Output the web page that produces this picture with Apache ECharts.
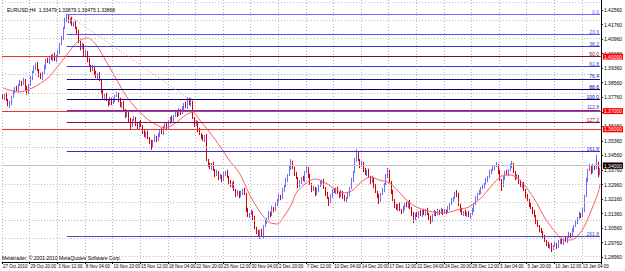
<!DOCTYPE html>
<html><head><meta charset="utf-8">
<script src="https://cdn.jsdelivr.net/npm/echarts@6/dist/echarts.min.js"></script>
<style>html,body{margin:0;padding:0;background:#fff}#c{width:625px;height:271px}</style>
</head><body><div id="c"></div>
<script>
// ---------- DATA ----------
const symbolName = "EURUSD,H4";
const copyrightText = "Metatrader, \u00a9 2001-2010 MetaQuotes Software Corp.";
const firstAxisLabel = "27 Oct 2010";
const tradingDays = ["27 Oct","28 Oct","29 Oct","1 Nov","2 Nov","3 Nov","4 Nov","5 Nov","8 Nov","9 Nov","10 Nov","11 Nov","12 Nov","15 Nov","16 Nov","17 Nov","18 Nov","19 Nov","22 Nov","23 Nov","24 Nov","25 Nov","26 Nov","29 Nov","30 Nov","1 Dec","2 Dec","3 Dec","6 Dec","7 Dec","8 Dec","9 Dec","10 Dec","13 Dec","14 Dec","15 Dec","16 Dec","17 Dec","20 Dec","21 Dec","22 Dec","23 Dec","24 Dec","27 Dec","28 Dec","29 Dec","30 Dec","31 Dec","3 Jan","4 Jan","5 Jan","6 Jan","7 Jan","10 Jan","11 Jan","12 Jan","13 Jan","14 Jan"];
const barHours = ["00:00","04:00","08:00","12:00","16:00","20:00"];

const opens = [1.3780,1.3772,1.3789,1.3761,1.3739,1.3745,1.3778,1.3805,1.3827,1.3816,
1.3844,1.3860,1.3849,1.3871,1.3827,1.3805,1.3844,1.3882,1.3915,1.3937,
1.3959,1.3926,1.3899,1.3882,1.3910,1.3943,1.3981,1.3970,1.3998,1.3987,
1.4009,1.3981,1.4003,1.4025,1.4069,1.4102,1.4157,1.4201,1.4218,1.4190,
1.4207,1.4174,1.4185,1.4157,1.4135,1.4080,1.4047,1.4064,1.4009,1.4025,
1.3981,1.3948,1.3926,1.3943,1.3910,1.3888,1.3904,1.3871,1.3805,1.3772,
1.3789,1.3761,1.3739,1.3767,1.3745,1.3761,1.3783,1.3794,1.3761,1.3728,
1.3745,1.3706,1.3673,1.3695,1.3651,1.3624,1.3651,1.3662,1.3629,1.3607,
1.3640,1.3618,1.3585,1.3563,1.3580,1.3552,1.3530,1.3514,1.3536,1.3558,
1.3541,1.3569,1.3596,1.3580,1.3613,1.3629,1.3607,1.3640,1.3662,1.3646,
1.3673,1.3695,1.3679,1.3706,1.3690,1.3717,1.3739,1.3723,1.3761,1.3739,
1.3745,1.3662,1.3624,1.3640,1.3596,1.3574,1.3558,1.3541,1.3563,1.3431,
1.3404,1.3387,1.3409,1.3376,1.3349,1.3365,1.3332,1.3343,1.3321,1.3354,
1.3365,1.3338,1.3310,1.3288,1.3305,1.3266,1.3239,1.3255,1.3233,1.3250,
1.3266,1.3244,1.3156,1.3123,1.3134,1.3145,1.3112,1.3057,1.3035,1.3019,
1.3041,1.3013,1.3068,1.3090,1.3107,1.3140,1.3129,1.3167,1.3156,1.3189,
1.3211,1.3233,1.3222,1.3266,1.3288,1.3321,1.3349,1.3387,1.3415,1.3387,
1.3354,1.3332,1.3288,1.3310,1.3332,1.3321,1.3365,1.3387,1.3343,1.3299,
1.3266,1.3277,1.3244,1.3266,1.3288,1.3305,1.3316,1.3277,1.3244,1.3222,
1.3200,1.3233,1.3266,1.3255,1.3272,1.3250,1.3233,1.3255,1.3228,1.3211,
1.3222,1.3244,1.3277,1.3321,1.3365,1.3431,1.3464,1.3431,1.3398,1.3415,
1.3376,1.3354,1.3371,1.3338,1.3310,1.3332,1.3288,1.3255,1.3233,1.3211,
1.3244,1.3266,1.3299,1.3343,1.3365,1.3310,1.3255,1.3211,1.3178,1.3162,
1.3184,1.3156,1.3145,1.3167,1.3189,1.3178,1.3200,1.3167,1.3134,1.3112,
1.3134,1.3123,1.3145,1.3129,1.3151,1.3134,1.3156,1.3134,1.3112,1.3101,
1.3129,1.3145,1.3134,1.3151,1.3140,1.3156,1.3140,1.3151,1.3145,1.3167,
1.3189,1.3211,1.3222,1.3244,1.3239,1.3184,1.3156,1.3134,1.3145,1.3129,
1.3140,1.3123,1.3134,1.3156,1.3189,1.3222,1.3244,1.3255,1.3277,1.3288,
1.3299,1.3321,1.3338,1.3365,1.3376,1.3387,1.3398,1.3404,1.3365,1.3321,
1.3288,1.3332,1.3365,1.3354,1.3376,1.3398,1.3404,1.3365,1.3332,1.3343,
1.3310,1.3288,1.3299,1.3266,1.3233,1.3211,1.3184,1.3167,1.3145,1.3123,
1.3090,1.3068,1.3046,1.3035,1.3008,1.2986,1.2969,1.2953,1.2964,1.2947,
1.2958,1.2969,1.2953,1.2980,1.2991,1.2975,1.2997,1.2986,1.3008,1.3024,
1.3013,1.3046,1.3068,1.3090,1.3112,1.3134,1.3123,1.3156,1.3233,1.3321,
1.3376,1.3398,1.3365,1.3398,1.3387,1.3415,1.33479];

const closes = [1.3772,1.3789,1.3761,1.3739,1.3745,1.3778,1.3805,1.3827,1.3816,1.3844,
1.3860,1.3849,1.3871,1.3827,1.3805,1.3844,1.3882,1.3915,1.3937,1.3959,
1.3926,1.3899,1.3882,1.3910,1.3943,1.3981,1.3970,1.3998,1.3987,1.4009,
1.3981,1.4003,1.4025,1.4069,1.4102,1.4157,1.4201,1.4218,1.4190,1.4207,
1.4174,1.4185,1.4157,1.4135,1.4080,1.4047,1.4064,1.4009,1.4025,1.3981,
1.3948,1.3926,1.3943,1.3910,1.3888,1.3904,1.3871,1.3805,1.3772,1.3789,
1.3761,1.3739,1.3767,1.3745,1.3761,1.3783,1.3794,1.3761,1.3728,1.3745,
1.3706,1.3673,1.3695,1.3651,1.3624,1.3651,1.3662,1.3629,1.3607,1.3640,
1.3618,1.3585,1.3563,1.3580,1.3552,1.3530,1.3514,1.3536,1.3558,1.3541,
1.3569,1.3596,1.3580,1.3613,1.3629,1.3607,1.3640,1.3662,1.3646,1.3673,
1.3695,1.3679,1.3706,1.3690,1.3717,1.3739,1.3723,1.3761,1.3739,1.3745,
1.3662,1.3624,1.3640,1.3596,1.3574,1.3558,1.3541,1.3563,1.3431,1.3404,
1.3387,1.3409,1.3376,1.3349,1.3365,1.3332,1.3343,1.3321,1.3354,1.3365,
1.3338,1.3310,1.3288,1.3305,1.3266,1.3239,1.3255,1.3233,1.3250,1.3266,
1.3244,1.3156,1.3123,1.3134,1.3145,1.3112,1.3057,1.3035,1.3019,1.3041,
1.3013,1.3068,1.3090,1.3107,1.3140,1.3129,1.3167,1.3156,1.3189,1.3211,
1.3233,1.3222,1.3266,1.3288,1.3321,1.3349,1.3387,1.3415,1.3387,1.3354,
1.3332,1.3288,1.3310,1.3332,1.3321,1.3365,1.3387,1.3343,1.3299,1.3266,
1.3277,1.3244,1.3266,1.3288,1.3305,1.3316,1.3277,1.3244,1.3222,1.3200,
1.3233,1.3266,1.3255,1.3272,1.3250,1.3233,1.3255,1.3228,1.3211,1.3222,
1.3244,1.3277,1.3321,1.3365,1.3431,1.3464,1.3431,1.3398,1.3415,1.3376,
1.3354,1.3371,1.3338,1.3310,1.3332,1.3288,1.3255,1.3233,1.3211,1.3244,
1.3266,1.3299,1.3343,1.3365,1.3310,1.3255,1.3211,1.3178,1.3162,1.3184,
1.3156,1.3145,1.3167,1.3189,1.3178,1.3200,1.3167,1.3134,1.3112,1.3134,
1.3123,1.3145,1.3129,1.3151,1.3134,1.3156,1.3134,1.3112,1.3101,1.3129,
1.3145,1.3134,1.3151,1.3140,1.3156,1.3140,1.3151,1.3145,1.3167,1.3189,
1.3211,1.3222,1.3244,1.3239,1.3184,1.3156,1.3134,1.3145,1.3129,1.3140,
1.3123,1.3134,1.3156,1.3189,1.3222,1.3244,1.3255,1.3277,1.3288,1.3299,
1.3321,1.3338,1.3365,1.3376,1.3387,1.3398,1.3404,1.3365,1.3321,1.3288,
1.3332,1.3365,1.3354,1.3376,1.3398,1.3404,1.3365,1.3332,1.3343,1.3310,
1.3288,1.3299,1.3266,1.3233,1.3211,1.3184,1.3167,1.3145,1.3123,1.3090,
1.3068,1.3046,1.3035,1.3008,1.2986,1.2969,1.2953,1.2964,1.2947,1.2958,
1.2969,1.2953,1.2980,1.2991,1.2975,1.2997,1.2986,1.3008,1.3024,1.3013,
1.3046,1.3068,1.3090,1.3112,1.3134,1.3123,1.3156,1.3233,1.3321,1.3376,
1.3398,1.3365,1.3398,1.3387,1.3415,1.33479,1.33868];

const highs = [1.3792,1.3795,1.3801,1.3767,1.3757,1.3784,1.3817,1.3833,1.3839,1.3850,
1.3872,1.3866,1.3883,1.3877,1.3839,1.3850,1.3894,1.3921,1.3949,1.3965,
1.3971,1.3932,1.3911,1.3916,1.3955,1.3987,1.3993,1.4004,1.4010,1.4015,
1.4021,1.4009,1.4037,1.4075,1.4114,1.4163,1.4213,1.4234,1.4230,1.4213,
1.4219,1.4191,1.4197,1.4163,1.4147,1.4086,1.4076,1.4070,1.4037,1.4031,
1.3993,1.3954,1.3955,1.3949,1.3922,1.3910,1.3916,1.3877,1.3817,1.3795,
1.3801,1.3767,1.3779,1.3773,1.3773,1.3789,1.3806,1.3800,1.3773,1.3751,
1.3757,1.3712,1.3707,1.3701,1.3663,1.3657,1.3674,1.3668,1.3641,1.3646,
1.3652,1.3624,1.3597,1.3586,1.3592,1.3558,1.3542,1.3542,1.3570,1.3564,
1.3581,1.3602,1.3608,1.3619,1.3641,1.3635,1.3652,1.3668,1.3674,1.3679,
1.3707,1.3701,1.3718,1.3712,1.3729,1.3745,1.3751,1.3778,1.3773,1.3772,
1.3757,1.3668,1.3652,1.3646,1.3608,1.3580,1.3570,1.3569,1.3575,1.3437,
1.3416,1.3415,1.3421,1.3382,1.3377,1.3371,1.3355,1.3349,1.3366,1.3371,
1.3377,1.3344,1.3322,1.3311,1.3317,1.3272,1.3267,1.3261,1.3262,1.3272,
1.3278,1.3250,1.3168,1.3140,1.3157,1.3151,1.3124,1.3063,1.3047,1.3047,
1.3053,1.3074,1.3102,1.3113,1.3152,1.3146,1.3179,1.3173,1.3201,1.3217,
1.3245,1.3239,1.3278,1.3294,1.3333,1.3355,1.3399,1.3436,1.3427,1.3393,
1.3366,1.3338,1.3322,1.3338,1.3344,1.3371,1.3404,1.3393,1.3355,1.3305,
1.3289,1.3283,1.3278,1.3294,1.3317,1.3322,1.3328,1.3283,1.3256,1.3228,
1.3245,1.3272,1.3278,1.3278,1.3284,1.3256,1.3267,1.3261,1.3240,1.3228,
1.3256,1.3283,1.3333,1.3371,1.3443,1.3491,1.3476,1.3437,1.3427,1.3421,
1.3388,1.3377,1.3383,1.3344,1.3344,1.3338,1.3300,1.3261,1.3245,1.3250,
1.3278,1.3305,1.3355,1.3387,1.3377,1.3316,1.3267,1.3217,1.3190,1.3190,
1.3196,1.3162,1.3179,1.3195,1.3201,1.3206,1.3212,1.3173,1.3146,1.3140,
1.3146,1.3151,1.3157,1.3157,1.3163,1.3162,1.3168,1.3140,1.3124,1.3135,
1.3157,1.3151,1.3163,1.3157,1.3168,1.3162,1.3163,1.3157,1.3179,1.3195,
1.3223,1.3228,1.3256,1.3266,1.3251,1.3190,1.3168,1.3151,1.3157,1.3146,
1.3152,1.3140,1.3168,1.3195,1.3234,1.3250,1.3267,1.3283,1.3300,1.3305,
1.3333,1.3344,1.3377,1.3382,1.3399,1.3404,1.3420,1.3410,1.3377,1.3327,
1.3344,1.3371,1.3377,1.3382,1.3410,1.3426,1.3416,1.3371,1.3355,1.3349,
1.3322,1.3305,1.3311,1.3272,1.3245,1.3217,1.3196,1.3173,1.3157,1.3129,
1.3102,1.3074,1.3058,1.3041,1.3020,1.2992,1.2981,1.2970,1.2976,1.2964,
1.2981,1.2975,1.2992,1.2997,1.3003,1.3003,1.3009,1.3014,1.3036,1.3030,
1.3058,1.3074,1.3102,1.3118,1.3146,1.3140,1.3168,1.3239,1.3333,1.3382,
1.3410,1.3404,1.3410,1.3404,1.3459,1.3421,1.33879];

const lows = [1.3766,1.3760,1.3755,1.3727,1.3717,1.3733,1.3772,1.3793,1.3810,1.3804,
1.3838,1.3837,1.3843,1.3815,1.3789,1.3793,1.3838,1.3870,1.3909,1.3925,
1.3920,1.3887,1.3876,1.3870,1.3904,1.3931,1.3964,1.3958,1.3981,1.3975,
1.3975,1.3969,1.3997,1.4013,1.4063,1.4090,1.4151,1.4189,1.4184,1.4178,
1.4168,1.4162,1.4151,1.4123,1.4074,1.4035,1.4041,1.3997,1.4003,1.3969,
1.3942,1.3914,1.3920,1.3898,1.3882,1.3876,1.3865,1.3793,1.3766,1.3760,
1.3755,1.3727,1.3733,1.3733,1.3739,1.3749,1.3777,1.3749,1.3722,1.3716,
1.3700,1.3661,1.3667,1.3639,1.3596,1.3612,1.3645,1.3617,1.3601,1.3595,
1.3612,1.3573,1.3557,1.3551,1.3546,1.3518,1.3486,1.3502,1.3530,1.3529,
1.3535,1.3557,1.3574,1.3568,1.3607,1.3595,1.3601,1.3628,1.3640,1.3634,
1.3667,1.3667,1.3673,1.3678,1.3684,1.3705,1.3717,1.3711,1.3733,1.3727,
1.3656,1.3612,1.3618,1.3584,1.3568,1.3546,1.3535,1.3529,1.3425,1.3392,
1.3381,1.3375,1.3370,1.3337,1.3343,1.3320,1.3326,1.3309,1.3315,1.3342,
1.3332,1.3298,1.3282,1.3276,1.3260,1.3227,1.3233,1.3221,1.3227,1.3238,
1.3238,1.3144,1.3117,1.3111,1.3128,1.3100,1.3051,1.3023,1.3013,1.2997,
1.3007,1.3001,1.3062,1.3078,1.3101,1.3117,1.3123,1.3144,1.3150,1.3177,
1.3205,1.3210,1.3216,1.3254,1.3282,1.3309,1.3343,1.3375,1.3381,1.3342,
1.3326,1.3276,1.3282,1.3298,1.3315,1.3309,1.3359,1.3331,1.3293,1.3254,
1.3260,1.3232,1.3238,1.3254,1.3282,1.3293,1.3271,1.3232,1.3216,1.3178,
1.3194,1.3221,1.3249,1.3243,1.3244,1.3221,1.3227,1.3216,1.3205,1.3199,
1.3216,1.3232,1.3271,1.3309,1.3359,1.3419,1.3425,1.3386,1.3392,1.3364,
1.3348,1.3342,1.3332,1.3298,1.3304,1.3276,1.3249,1.3221,1.3189,1.3199,
1.3238,1.3254,1.3293,1.3331,1.3304,1.3243,1.3205,1.3166,1.3156,1.3150,
1.3150,1.3133,1.3139,1.3155,1.3172,1.3166,1.3161,1.3122,1.3085,1.3100,
1.3117,1.3111,1.3123,1.3117,1.3128,1.3122,1.3128,1.3100,1.3079,1.3089,
1.3123,1.3122,1.3128,1.3128,1.3134,1.3128,1.3134,1.3133,1.3139,1.3155,
1.3183,1.3199,1.3216,1.3227,1.3178,1.3144,1.3128,1.3122,1.3123,1.3117,
1.3117,1.3107,1.3128,1.3144,1.3183,1.3210,1.3238,1.3243,1.3271,1.3276,
1.3293,1.3309,1.3332,1.3353,1.3370,1.3375,1.3392,1.3353,1.3315,1.3260,
1.3282,1.3320,1.3348,1.3342,1.3370,1.3386,1.3359,1.3320,1.3326,1.3298,
1.3282,1.3276,1.3260,1.3221,1.3205,1.3172,1.3161,1.3133,1.3117,1.3078,
1.3062,1.3034,1.3029,1.2996,1.2980,1.2957,1.2947,1.2941,1.2925,1.2935,
1.2952,1.2941,1.2947,1.2968,1.2969,1.2963,1.2980,1.2974,1.3002,1.3001,
1.3007,1.3034,1.3062,1.3078,1.3106,1.3111,1.3117,1.3144,1.3227,1.3309,
1.3370,1.3353,1.3359,1.3375,1.3381,1.3336,1.33475];

// moving average
const maIndex = [0,9,17,26,31,37,43,49,54,60,66,71,77,83,89,94,100,106,110,114,120,126,131,137,143,149,154,159,163,167,170,175,181,187,193,198,203,207,213,218,224,230,235,241,249,256,263,270,277,283,289,294,298,303,309,314,320,325,329,333,337,341,345,346];
const maValues = [1.3827,1.3805,1.3827,1.3882,1.3937,1.4009,1.4080,1.4102,1.4064,1.3970,1.3871,1.3789,1.3717,1.3662,1.3624,1.3607,1.3634,1.3679,1.3695,1.3651,1.3580,1.3503,1.3431,1.3360,1.3239,1.3145,1.3090,1.3079,1.3123,1.3184,1.3250,1.3299,1.3327,1.3305,1.3266,1.3250,1.3266,1.3305,1.3338,1.3321,1.3305,1.3250,1.3200,1.3167,1.3145,1.3140,1.3156,1.3173,1.3222,1.3288,1.3343,1.3349,1.3332,1.3283,1.3200,1.3112,1.3035,1.2991,1.2991,1.3013,1.3068,1.3156,1.3255,1.3299];

// price axis tick labels
const yTicks = [1.2896,1.2976,1.3056,1.3136,1.3216,1.3296,1.3376,1.3456,1.3536,1.3616,1.3696,1.3776,1.3856,1.3936,1.4016,1.4096,1.4176,1.4256];
const yMin = 1.2870, yMax = 1.4311;

// Fibonacci retracement
const fibStartIndex = 37, fibEndIndex = 108;
const fibHigh = 1.4234, fibLow = 1.37665;
const fibLevels = ["0.0","23.6","38.2","50.0","61.8","76.4","88.6","100.0","112.8","127.2","161.8","261.8"];
const fibPrices = [1.4234,1.41237,1.40554,1.40003,1.39451,1.38768,1.38198,1.37665,1.37071,1.36393,1.34776,1.30101];

// horizontal price lines
const redLines = [1.40003,1.37225,1.36393];
const alertLine = 1.34255;
const bidPrice = 1.33868;

// ---------- STYLE ----------
const FONT = 'Liberation Sans';
const FS = 5;
const FSX = 4.5;
const fibColors = ["#6a6aff","#5252ee","#3a3ad8","#7a0a40","#3a3ad8","#10109a","#000088","#000088","#3a3ad8","#8a0a3a","#3030d0","#4a4ad0"];
const upColor = '#6c6cff', downColor = '#dd0000';

// ---------- BUILD ----------
const categories = [];
tradingDays.forEach((d, di) => barHours.forEach((h, hi) => {
  if (di === 0 && hi === 0) return; // chart starts at 27 Oct 04:00
  categories.push(d + ' ' + h);
}));
const candleData = categories.map((c, i) => [opens[i], closes[i], lows[i], highs[i]]);
const last = categories.length - 1;
const headerText = symbolName + '  ' + [opens[last], highs[last], lows[last], closes[last]].map(v => v.toFixed(5)).join(' ');

const fibLines = fibLevels.map((lv, k) => [
  { coord: [categories[fibStartIndex], fibPrices[k]],
    lineStyle: { color: fibColors[k], width: 1, type: 'solid' },
    label: { show: true, formatter: lv, position: 'insideEndTop', color: fibColors[k], fontSize: FS, fontFamily: FONT, distance: [1, 0] } },
  { coord: [categories[last], fibPrices[k]] }
]);
const fibBase = [
  { coord: [categories[fibStartIndex], fibHigh], lineStyle: { color: '#ff7070', width: 1, type: [1, 2] }, label: { show: false } },
  { coord: [categories[fibEndIndex], fibLow] }
];
const boxLabel = (bg) => ({ show: true, position: 'end', formatter: p => p.value.toFixed(5), backgroundColor: bg, color: '#fff', fontSize: FS, fontFamily: FONT, padding: [1, 1, 0, 1], distance: 2 });
const priceLines = redLines.map(v => ({ yAxis: v, lineStyle: { color: '#ee3030', width: 1, type: 'solid' }, label: boxLabel('#ff0000') }));
priceLines.push({ yAxis: alertLine, lineStyle: { color: '#f08080', width: 1, type: 'solid' }, label: boxLabel('#ff0000') });
priceLines.push({ yAxis: bidPrice, lineStyle: { color: '#c0c0c8', width: 1, type: 'solid' }, label: boxLabel('#000000') });

const chart = echarts.init(document.getElementById('c'), null, { renderer: 'svg', width: 625, height: 271 });
chart.setOption({
  animation: false,
  backgroundColor: '#ffffff',
  title: { text: headerText, left: 2, top: 2, textStyle: { fontSize: FS, fontWeight: 'normal', color: '#000', fontFamily: FONT } },
  graphic: [{ type: 'text', left: 2, top: 255, z: 100, style: { text: copyrightText, fontSize: FS, fill: '#000', fontFamily: FONT } }],
  grid: { left: 0, right: 18, top: 0, bottom: 9 },
  xAxis: {
    type: 'category', data: categories, boundaryGap: true,
    axisLine: { show: true, lineStyle: { color: '#000', width: 1 } },
    axisTick: { show: true, interval: 15, length: 2, lineStyle: { color: '#000' } },
    axisLabel: { interval: 15, align: 'left', fontSize: FSX, margin: 2, color: '#000', fontFamily: FONT,
      formatter: (v, i) => i === 0 ? firstAxisLabel : v },
    splitLine: { show: true, interval: 15, lineStyle: { color: '#b8b8b8', type: [1, 2], width: 1 } }
  },
  yAxis: {
    type: 'value', position: 'right', min: yMin, max: yMax,
    axisLine: { show: true, lineStyle: { color: '#000', width: 1 } },
    axisTick: { show: true, customValues: yTicks, length: 2, lineStyle: { color: '#000' } },
    axisLabel: { customValues: yTicks, formatter: v => v.toFixed(5), fontSize: FS, margin: 3, color: '#000', fontFamily: FONT },
    splitLine: { show: false }
  },
  series: [
    { type: 'line', data: [], silent: true,
      markLine: { silent: true, symbol: ['none', 'none'], animation: false, label: { show: false },
        lineStyle: { color: '#b8b8b8', type: [1, 2], width: 1 },
        data: yTicks.map(v => ({ yAxis: v })) } },
    { type: 'candlestick', data: candleData, barWidth: 1,
      itemStyle: { color: upColor, color0: downColor, borderColor: upColor, borderColor0: downColor, borderWidth: 1 },
      markLine: { silent: true, symbol: ['none', 'none'], animation: false, data: [...priceLines, ...fibLines, fibBase] } },
    { type: 'line', data: maIndex.map((ix, k) => [ix, maValues[k]]), showSymbol: false, smooth: 0.3, silent: true,
      lineStyle: { color: '#ff5a5a', width: 1 }, z: 3 }
  ]
});
</script>
</body></html>
